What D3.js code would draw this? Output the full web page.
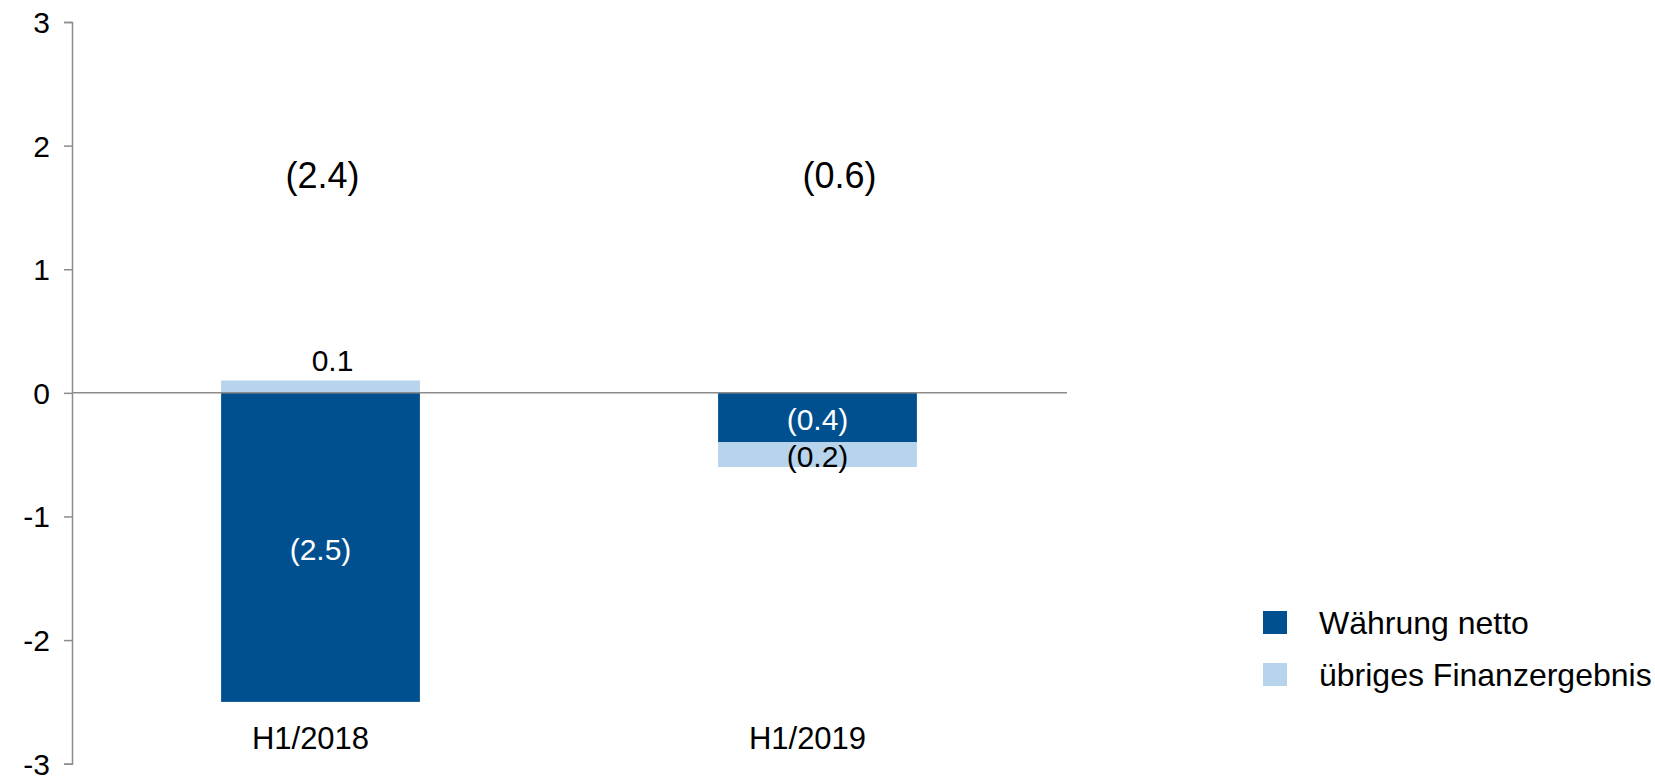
<!DOCTYPE html>
<html lang="de">
<head>
<meta charset="UTF-8">
<title>Finanzergebnis H1</title>
<style>
  body { margin: 0; background: #fff; }
  svg text { font-family: Arial, "Liberation Sans", sans-serif; }
  .axis path, .axis line { stroke: #8c8c8c; stroke-width: 1.5; }
  .axis text { font-size: 30px; fill: #000; }
</style>
</head>
<body>
<div id="chart"></div>
<script src="https://cdnjs.cloudflare.com/ajax/libs/d3/7.8.5/d3.min.js"></script>
<script>
// data
const categories = ["H1/2018", "H1/2019"];
const seriesNames = ["Währung netto", "übriges Finanzergebnis"];
const waehrung = [-2.5, -0.4];
const uebriges = [0.1, -0.2];
const totals = [-2.4, -0.6];
const yTicks = [-3, -2, -1, 0, 1, 2, 3];
const colors = ["#00508f", "#b8d3ec"];

const width = 1655, height = 779;
const margin = { top: 22, right: 589, bottom: 15, left: 72 };

const svg = d3.select("#chart").append("svg")
  .attr("width", width).attr("height", height);

const x = d3.scaleBand()
  .domain(categories)
  .range([margin.left, width - margin.right])
  .paddingInner(0.6)
  .paddingOuter(0.3);

const y = d3.scaleLinear()
  .domain([-3, 3])
  .range([height - margin.bottom - 0.3, margin.top]);

const fmt = v => v < 0 ? "(" + Math.abs(v).toFixed(1) + ")" : v.toFixed(1);

const rows = categories.map((c, i) => ({ cat: c, w: waehrung[i], u: uebriges[i] }));
const stack = d3.stack().keys(["w", "u"]).offset(d3.stackOffsetDiverging);
const layers = stack(rows);

// bars
const g = svg.append("g");
layers.forEach((layer, li) => {
  g.selectAll(null)
    .data(layer)
    .join("rect")
    .attr("x", d => x(d.data.cat))
    .attr("width", x.bandwidth())
    .attr("y", d => y(Math.max(d[0], d[1])))
    .attr("height", d => Math.abs(y(d[0]) - y(d[1])))
    .attr("fill", colors[li]);
});

// y axis
svg.append("g")
  .attr("class", "axis")
  .attr("transform", `translate(${margin.left},0)`)
  .call(d3.axisLeft(y).tickValues(yTicks).tickSize(8).tickSizeOuter(8).tickPadding(14).tickFormat(d => String(d)))
  .call(a => a.selectAll("text").attr("dy", "0.35em"));

// zero line
svg.append("line")
  .attr("x1", margin.left).attr("x2", width - margin.right + 1)
  .attr("y1", y(0)).attr("y2", y(0))
  .attr("stroke", "#8c8c8c").attr("stroke-width", 1.5);

// segment labels
layers.forEach((layer, li) => {
  layer.forEach((d, i) => {
    const v = li === 0 ? waehrung[i] : uebriges[i];
    const cx = x(d.data.cat) + x.bandwidth() / 2;
    let ty, fill, dx = 0;
    if (v > 0 && Math.abs(y(d[0]) - y(d[1])) < 30) {
      ty = y(d[1]) - 20; fill = "#000"; dx = 12;
    } else {
      ty = (y(d[0]) + y(d[1])) / 2 + 2; fill = li === 0 ? "#fff" : "#000";
    }
    svg.append("text")
      .attr("x", cx + dx).attr("y", ty)
      .attr("text-anchor", "middle")
      .attr("dominant-baseline", "central")
      .attr("font-size", 30)
      .attr("fill", fill)
      .text(fmt(v));
  });
});

// totals
svg.selectAll(".total")
  .data(totals)
  .join("text")
  .attr("class", "total")
  .attr("x", (d, i) => x(categories[i]) + x.bandwidth() / 2 + (i === 1 ? 22 : 2))
  .attr("y", y(1.76))
  .attr("text-anchor", "middle")
  .attr("dominant-baseline", "central")
  .attr("font-size", 36)
  .attr("fill", "#000")
  .text(d => fmt(d));

// category labels
svg.selectAll(".cat")
  .data(categories)
  .join("text")
  .attr("class", "cat")
  .attr("x", d => x(d) + x.bandwidth() / 2 - 10)
  .attr("y", 749)
  .attr("text-anchor", "middle")
  .attr("font-size", 31)
  .attr("fill", "#000")
  .text(d => d);

// legend
const legend = svg.append("g").attr("transform", "translate(1263,611)");
seriesNames.forEach((name, i) => {
  const row = legend.append("g").attr("transform", `translate(0,${i * 52})`);
  row.append("rect").attr("width", 24).attr("height", 23).attr("fill", colors[i]);
  row.append("text")
    .attr("x", 56).attr("y", 12)
    .attr("dominant-baseline", "central")
    .attr("font-size", 32)
    .attr("fill", "#000")
    .text(name);
});
</script>
</body>
</html>
